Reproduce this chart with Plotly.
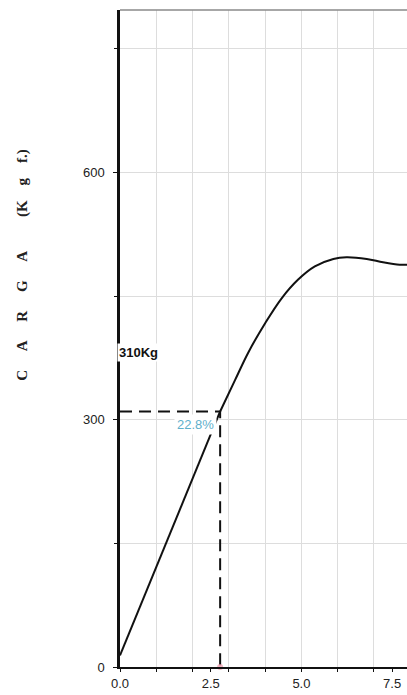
import plotly.graph_objects as go

# Load vs. displacement curve (carga in kgf)
disp_x = [0.0, 2.76, 3.17, 3.53, 4.0, 4.45, 4.91, 5.37, 5.88, 6.24, 6.80, 7.25, 7.71, 7.91]
load_y = [14, 310, 348, 381, 417, 447, 470, 486, 495, 497, 495, 491, 488, 488]

# Reference point marked on the curve
ref_x = 2.76
ref_load = 310
ref_label = "310Kg"
ref_pct_label = "22.8%"

x_ticks = [0.0, 2.5, 5.0, 7.5]
x_tick_text = ["0.0", "2.5", "5.0", "7.5"]
y_ticks = [0, 300, 600]
y_tick_text = ["0", "300", "600"]

nb = "\u00a0"
y_title = ("C" + nb * 5 + "A" + nb * 5 + "R" + nb * 5 + "G" + nb * 5 + "A" + nb * 9
           + "(K" + nb * 4 + "g" + nb * 4 + "f.)")

fig = go.Figure()

# dashed guide lines to the reference point
fig.add_trace(go.Scatter(
    x=[0, ref_x, ref_x], y=[ref_load, ref_load, 0],
    mode="lines", line=dict(color="#111111", width=2, dash="12px,7px"),
    hoverinfo="skip", showlegend=False, cliponaxis=False))

# elastic (straight) segment
fig.add_trace(go.Scatter(
    x=disp_x[:2], y=load_y[:2], mode="lines",
    line=dict(color="#111111", width=2), showlegend=False))

# plastic (curved) segment
fig.add_trace(go.Scatter(
    x=disp_x[1:], y=load_y[1:], mode="lines",
    line=dict(color="#111111", width=2, shape="spline", smoothing=1.0),
    showlegend=False, cliponaxis=False))

# small marker where the guide meets the x axis
fig.add_trace(go.Scatter(
    x=[ref_x], y=[0], mode="markers",
    marker=dict(size=6, color="rgba(240,150,170,0.7)"),
    showlegend=False, cliponaxis=False))

fig.add_annotation(
    x=0, y=382, xref="x", yref="y", text="<b>" + ref_label + "</b>",
    showarrow=False, xanchor="left", xshift=-3, bgcolor="white",
    font=dict(family="Liberation Sans", size=13, color="#111111"))

fig.add_annotation(
    x=2.07, y=294, xref="x", yref="y", text=ref_pct_label,
    showarrow=False, bgcolor="white", borderpad=2,
    font=dict(family="Liberation Sans", size=13, color="#5fb0cc"))

fig.add_annotation(
    x=-0.375, y=0.612, xref="paper", yref="paper", text="<b>" + y_title + "</b>",
    showarrow=False, textangle=-90,
    font=dict(family="Liberation Serif", size=15, color="#222222"))

# top border of the plotting frame
fig.add_shape(type="line", xref="paper", yref="paper", x0=0, x1=1, y0=1, y1=1,
              line=dict(color="#8a8a8a", width=1.5))

fig.update_layout(
    width=407, height=695,
    margin=dict(l=120, r=0, t=10, b=28),
    paper_bgcolor="white", plot_bgcolor="white",
    showlegend=False,
    xaxis=dict(
        range=[0, 7.91], tickvals=x_ticks, ticktext=x_tick_text,
        showgrid=False, zeroline=False,
        showline=True, linecolor="#111111", linewidth=2,
        ticks="outside", ticklen=3, tickcolor="#111111",
        tickfont=dict(family="Liberation Sans", size=13, color="#222222"),
        minor=dict(dtick=1, tick0=0, showgrid=True, gridcolor="#dddddd",
                   gridwidth=1, ticks="outside", ticklen=3, tickcolor="#111111"),
    ),
    yaxis=dict(
        range=[0, 797], tickvals=y_ticks, ticktext=y_tick_text,
        showgrid=True, gridcolor="#dddddd", gridwidth=1, zeroline=False,
        showline=True, linecolor="#111111", linewidth=2.5,
        ticks="outside", ticklen=4, tickcolor="#111111",
        ticklabelstandoff=6,
        tickfont=dict(family="Liberation Sans", size=13, color="#222222"),
        minor=dict(dtick=150, tick0=0, showgrid=True, gridcolor="#dddddd",
                   gridwidth=1, ticks="outside", ticklen=3, tickcolor="#111111"),
    ),
)

fig.write_html("out.html")
